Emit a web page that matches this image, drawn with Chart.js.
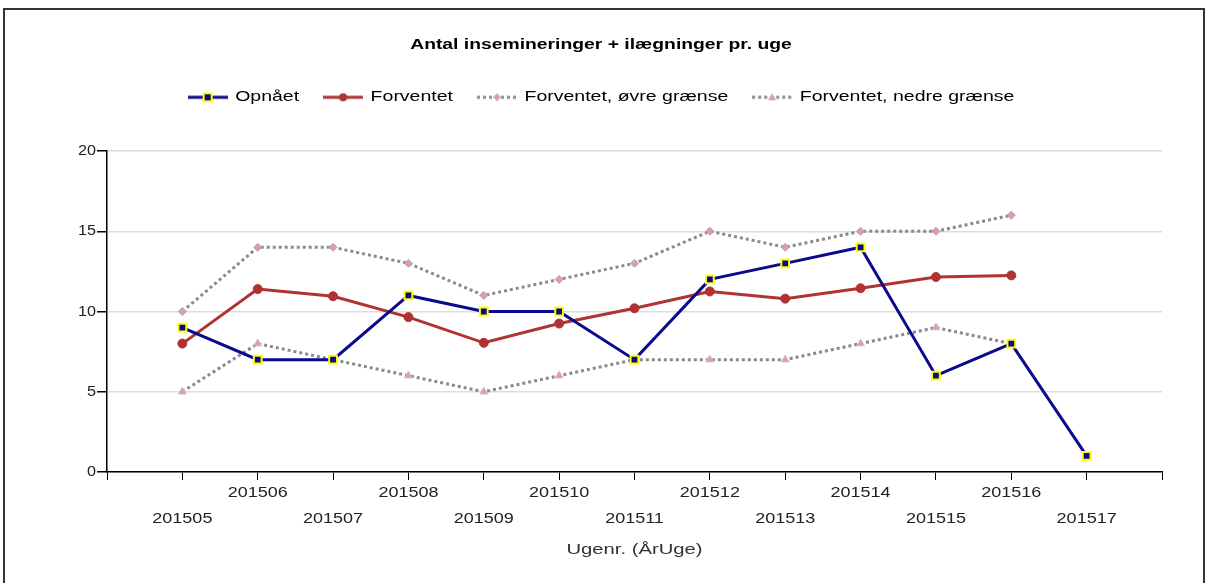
<!DOCTYPE html>
<html><head><meta charset="utf-8">
<script src="https://cdn.jsdelivr.net/npm/chart.js@4"></script>
<style>
html,body{margin:0;padding:0;background:#fff;}
#wrap{position:relative;width:1211px;height:583px;overflow:hidden;}
#frame{position:absolute;left:3px;top:8px;width:1202px;height:620px;border:2px solid #333;box-sizing:border-box;pointer-events:none;}
canvas{position:absolute;left:0;top:0;}
</style></head>
<body><div id="wrap"><canvas id="c" width="1211" height="583"></canvas><div id="frame"></div></div>
<script>
const weeks = ['', '201505','201506','201507','201508','201509','201510','201511','201512','201513','201514','201515','201516','201517',''];
const opnaaet   = [null, 9, 7, 7, 11, 10, 10, 7, 12, 13, 14, 6, 8, 1, null];
const forventet = [null, 8, 11.4, 10.95, 9.65, 8.05, 9.25, 10.2, 11.25, 10.8, 11.45, 12.15, 12.25, null, null];
const oevre     = [null, 10, 14, 14, 13, 11, 12, 13, 15, 14, 15, 15, 16, null, null];
const nedre     = [null, 5, 8, 7, 6, 5, 6, 7, 7, 7, 8, 9, 8, null, null];
const yTicks = [0, 5, 10, 15, 20];

const fam = (sx) => "'Liberation Sans', Arial, sx" + sx;
const NAVY = '#0a0a8c', RED = '#b03232', GRAY = '#8a8a8a', PINK = '#d9a0aa';

// horizontally widened text rendering (the reference text is stretched)
const canvas = document.getElementById('c');
const ctx = canvas.getContext('2d');
(function(){
  const proto = CanvasRenderingContext2D.prototype;
  const fd = Object.getOwnPropertyDescriptor(proto, 'font');
  let sx = 1; const stack = [];
  Object.defineProperty(ctx, 'font', { configurable: true,
    get(){ return fd.get.call(this); },
    set(v){ fd.set.call(this, v); const m = /sx(\d+)/.exec(v); sx = m ? (+m[1]) / 100 : 1; } });
  ctx.save = function(){ stack.push(sx); proto.save.call(this); };
  ctx.restore = function(){ if (stack.length) sx = stack.pop(); proto.restore.call(this); };
  ctx.measureText = function(t){ const m = proto.measureText.call(this, t);
    return { width: m.width * sx, actualBoundingBoxAscent: m.actualBoundingBoxAscent, actualBoundingBoxDescent: m.actualBoundingBoxDescent,
      actualBoundingBoxLeft: m.actualBoundingBoxLeft * sx, actualBoundingBoxRight: m.actualBoundingBoxRight * sx }; };
  ctx.fillText = function(t, x, y, mw){
    if (sx === 1) return proto.fillText.call(this, t, x, y);
    const s = sx; proto.save.call(this); this.translate(x, y); this.scale(s, 1); proto.fillText.call(this, t, 0, 0); proto.restore.call(this);
  };
})();

function legendIcon(kind){
  const c = document.createElement('canvas'); c.width = 40; c.height = 14;
  const g = c.getContext('2d'); const y = 7;
  if (kind === 'op') {
    g.strokeStyle = NAVY; g.lineWidth = 3; g.beginPath(); g.moveTo(0,y); g.lineTo(40,y); g.stroke();
    g.fillStyle = '#ffff00'; g.fillRect(15,2,10,10); g.fillStyle = NAVY; g.fillRect(17,4,6,6);
  } else if (kind === 'fv') {
    g.strokeStyle = RED; g.lineWidth = 3; g.beginPath(); g.moveTo(0,y); g.lineTo(40,y); g.stroke();
    g.fillStyle = RED; g.beginPath(); g.arc(20,y,4,0,Math.PI*2); g.fill();
  } else {
    g.strokeStyle = GRAY; g.lineWidth = 3; g.setLineDash([3,3]); g.beginPath(); g.moveTo(0,y); g.lineTo(40,y); g.stroke();
    g.fillStyle = PINK; g.beginPath();
    if (kind === 'up') { g.moveTo(20,y-4); g.lineTo(24,y); g.lineTo(20,y+4); g.lineTo(16,y); }
    else { g.moveTo(20,y-4); g.lineTo(24,y+3); g.lineTo(16,y+3); }
    g.fill();
  }
  return c;
}
const icons = [legendIcon('op'), legendIcon('fv'), legendIcon('up'), legendIcon('lo')];

new Chart(canvas, {
  type: 'line',
  data: {
    labels: weeks,
    datasets: [
      { label: 'Opnået', data: opnaaet, borderColor: NAVY, borderWidth: 3, pointStyle: 'rect', pointRadius: 5.5, pointBackgroundColor: NAVY, pointBorderColor: '#ffff00', pointBorderWidth: 2, tension: 0, order: 0 },
      { label: 'Forventet', data: forventet, borderColor: RED, borderWidth: 3, pointStyle: 'circle', pointRadius: 4.5, pointBorderWidth: 1, pointBackgroundColor: RED, pointBorderColor: RED, tension: 0, order: 1 },
      { label: 'Forventet, øvre grænse', data: oevre, borderColor: GRAY, borderWidth: 3, borderDash: [3,3], pointStyle: 'rectRot', pointRadius: 4, pointBorderWidth: 1, pointBackgroundColor: PINK, pointBorderColor: '#c49aa2', tension: 0, order: 2 },
      { label: 'Forventet, nedre grænse', data: nedre, borderColor: GRAY, borderWidth: 3, borderDash: [3,3], pointStyle: 'triangle', pointRadius: 4.5, pointBorderWidth: 1, pointBackgroundColor: PINK, pointBorderColor: '#e4b4bc', tension: 0, order: 3 }
    ]
  },
  options: {
    responsive: false, animation: false, devicePixelRatio: 1,
    layout: { padding: { left: 40, right: 49, top: 0, bottom: 0 } },
    plugins: {
      tooltip: { enabled: false },
      title: { display: true, text: 'Antal insemineringer + ilægninger pr. uge', color: '#000', font: { family: fam(138), size: 14, weight: 'bold' }, padding: { top: 37, bottom: 12 } },
      subtitle: { display: true, text: ' ', weight: 500, font: { size: 1 }, padding: { top: 35, bottom: 0 } },
      legend: {
        position: 'top',
        labels: {
          usePointStyle: true, pointStyleWidth: 40, padding: 24, color: '#000',
          font: { family: fam(130), size: 15 },
          generateLabels: (chart) => chart.data.datasets.map((d, i) => ({ text: d.label, pointStyle: icons[i], datasetIndex: i, fontColor: '#000', lineWidth: 0, strokeStyle: 'transparent', fillStyle: 'transparent' }))
        }
      }
    },
    scales: {
      x: {
        type: 'category', offset: false,
        afterFit: (s) => { s.height = 111; },
        grid: { drawOnChartArea: false, drawTicks: true, tickLength: 8, tickColor: '#000' },
        border: { color: '#000', width: 1.5 },
        ticks: { autoSkip: false, maxRotation: 0, minRotation: 0, color: '#222', padding: 0, font: { family: fam(120), size: 15, lineHeight: 1.73 },
          callback: function(v, i){ const l = weeks[i]; if (!l) return ''; return (i % 2 === 0) ? [l, ''] : ['', l]; } },
        title: { display: true, text: 'Ugenr. (ÅrUge)', color: '#333', font: { family: fam(135), size: 15 }, padding: { top: 0, bottom: 24 } }
      },
      y: {
        min: 0, max: 20,
        afterBuildTicks: (s) => { s.ticks = yTicks.map(v => ({ value: v })); },
        afterFit: (s) => { s.width = 67; },
        grid: { color: '#dcdcdc', lineWidth: 1.5, tickColor: '#000', tickLength: 10 },
        border: { color: '#000', width: 1.5 },
        ticks: { color: '#222', padding: 1, font: { family: fam(108), size: 15 } }
      }
    }
  }
});
</script></body></html>
